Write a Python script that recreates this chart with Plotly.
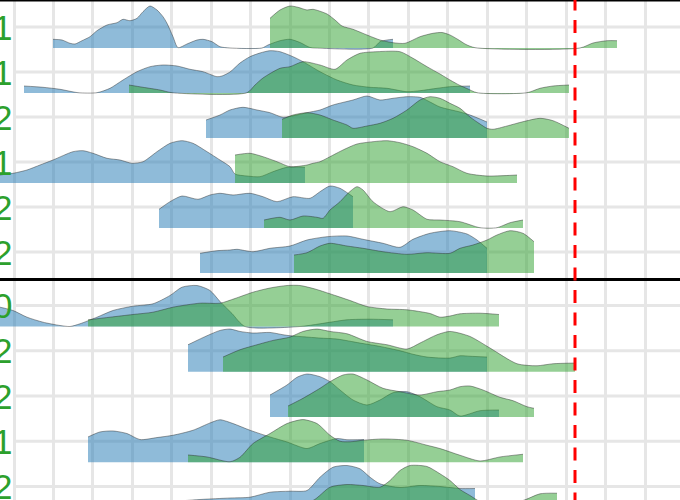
import plotly.graph_objects as go

# ---------------- data ----------------
top_labels = ["1", "1", "2", "1", "2", "2"]
bottom_labels = ["0", "2", "2", "1", "2"]
threshold = 575

# top panel rows (densities, arbitrary units)
r1_blue_x = [53, 62, 70, 75, 82, 90, 97, 107, 117, 123, 130, 137, 143, 150, 157, 163, 167, 173, 178, 187, 197, 203, 212, 220, 230, 262, 268, 280, 290, 300, 310, 316, 373, 380, 387, 393]
r1_blue_d = [8.7, 8, 4.7, 4, 7.3, 11.3, 17.3, 23, 25.3, 28.7, 27.3, 29.7, 36.3, 42, 38, 31.3, 24.7, 11.3, 0.3, 4, 8, 8.7, 6.3, 1.3, 0, 0, 3, 7.3, 8.7, 5.5, 0.5, 0, 0, 6.3, 8, 8.7]
r1_green_x = [270, 280, 290, 298, 307, 313, 327, 335, 342, 353, 367, 380, 393, 405, 420, 433, 442, 450, 458, 466, 475, 580, 593, 607, 617]
r1_green_d = [29.7, 38, 42, 40.7, 38, 38.7, 34, 28, 22, 18.7, 13, 8, 5.3, 4.7, 11.3, 14.7, 15.5, 13, 8.5, 3.5, 0.3, 0, 5, 7.3, 7.3]

r2_blue_x = [24, 43, 60, 78, 97, 110, 123, 137, 150, 163, 177, 190, 203, 217, 222, 230, 240, 250, 260, 270, 280, 293, 303, 320, 337, 353, 370, 387, 407, 420, 437, 450, 470]
r2_blue_d = [7, 5.7, 3.7, 0.3, 0.3, 4.7, 13, 21.3, 26.3, 28, 27, 23.7, 21.3, 16.3, 17, 21, 30, 36.3, 40, 42.3, 41.3, 36.3, 31.3, 21.3, 13, 8, 5.7, 4.7, 1.3, 2.3, 4.7, 6.3, 7]
r2_green_x = [129, 143, 160, 172, 247, 255, 263, 280, 290, 303, 320, 335, 347, 360, 377, 400, 413, 427, 440, 450, 460, 467, 477, 527, 540, 553, 569]
r2_green_d = [8, 5.7, 3, 0.3, 0.3, 8, 15, 24.7, 26.3, 31.3, 28, 23.7, 33, 39.7, 41.3, 41.3, 34.7, 26.3, 19, 13, 7.5, 4.5, 0.3, 0.3, 4.7, 7, 8]

r3_blue_x = [206, 220, 230, 243, 257, 270, 283, 297, 307, 320, 333, 353, 367, 380, 393, 407, 420, 430, 440, 460, 470, 480, 487]
r3_blue_d = [18, 23, 28, 30.7, 28, 25.3, 20.7, 23, 25.3, 28, 33, 38, 42, 38, 39.7, 41.3, 40.7, 36, 31, 26, 23, 19, 16]
r3_green_x = [282, 293, 307, 320, 333, 347, 353, 367, 380, 393, 407, 420, 430, 440, 450, 460, 470, 480, 487, 493, 507, 523, 540, 553, 569]
r3_green_d = [18.7, 23, 25.3, 23, 18, 13, 9.7, 12, 14.7, 19.7, 28, 38, 41.3, 39.7, 34.7, 29.7, 21, 14, 9.7, 8.7, 12, 16.3, 19.7, 17.3, 9.7]

r4_blue_x = [-10, 0, 13, 27, 40, 53, 73, 83, 93, 107, 120, 132, 143, 157, 170, 182, 193, 207, 220, 230, 235, 247, 260, 273, 287, 305]
r4_blue_d = [6, 8, 9.7, 13, 18, 23, 31.3, 32.3, 29.7, 24.7, 23, 19.7, 21.3, 31.3, 39.7, 42.3, 39.7, 31.3, 23, 16.3, 9, 7, 6.3, 11.3, 15.7, 15.7]
r4_green_x = [235, 250, 263, 277, 290, 307, 313, 320, 330, 343, 357, 373, 387, 400, 413, 427, 440, 453, 467, 487, 517]
r4_green_d = [28, 29.7, 26.3, 21.3, 16.3, 18, 19.7, 21.3, 26.3, 33, 39, 41.3, 42.3, 40.3, 36.3, 29.7, 21.3, 16.3, 9.7, 7, 8]

r5_blue_x = [159, 170, 182, 198, 210, 220, 233, 250, 263, 277, 293, 310, 320, 330, 340, 348, 353]
r5_blue_d = [18.7, 26.3, 32, 28.7, 33, 34.7, 33, 34.7, 31.3, 26.3, 31.3, 29.7, 36.3, 42, 39.7, 34.7, 31.3]
r5_green_x = [264, 280, 290, 303, 317, 323, 330, 340, 348, 357, 363, 373, 390, 403, 413, 427, 440, 460, 480, 497, 510, 523]
r5_green_d = [8, 10.7, 8, 12, 10.7, 9.7, 18, 26.3, 34.7, 41.3, 38, 26.3, 16.3, 21.3, 18, 8.7, 8, 6.3, 0.3, 0.3, 5.3, 8]

r6_blue_x = [200, 217, 230, 237, 253, 270, 290, 307, 327, 347, 363, 383, 400, 413, 430, 450, 467, 477, 487]
r6_blue_d = [19.7, 22.3, 23, 23.7, 21.3, 24.7, 27, 33, 36.3, 37, 33.7, 29.7, 25.7, 33.7, 39.7, 42.3, 39, 33, 24.7]
r6_green_x = [294, 307, 320, 330, 347, 363, 383, 407, 427, 450, 460, 473, 487, 497, 510, 523, 534]
r6_green_d = [18, 20.3, 27, 29.7, 27, 24.7, 21.3, 18.7, 20.3, 19.7, 24.7, 28, 33, 38, 42.3, 39.7, 31.3]

# bottom panel rows
r7_blue_x = [-10, 0, 13, 27, 43, 60, 70, 80, 97, 113, 133, 153, 170, 182, 197, 210, 220, 232, 245, 300, 320, 347, 370, 393]
r7_blue_d = [21, 19.3, 16, 9.3, 4.3, 1, 0, 2.7, 9.3, 16, 20.3, 22.7, 31, 39.3, 41, 36, 25, 13, 0, 0, 2.7, 6.7, 7.3, 6.7]
r7_green_x = [88, 110, 133, 153, 173, 200, 220, 235, 253, 270, 287, 300, 315, 330, 350, 367, 387, 407, 430, 440, 450, 460, 480, 499]
r7_green_d = [6.7, 9.3, 12, 14.3, 19.3, 23.3, 23.3, 28, 34.3, 38.5, 41, 41, 37.5, 32.7, 26, 20, 17.5, 16.7, 13, 9.3, 10.5, 12.7, 13.3, 12]

r8_blue_x = [188, 207, 220, 230, 240, 253, 270, 283, 290, 303, 320, 337, 360, 380, 400, 413, 427, 450, 460, 470, 487]
r8_blue_d = [27, 36, 41.3, 42.7, 40.3, 38.7, 39.3, 37, 36, 35, 33.7, 32.7, 28.7, 25.3, 21, 17.5, 14.7, 13.7, 16, 15.5, 14.7]
r8_green_x = [223, 240, 257, 273, 290, 303, 317, 330, 347, 367, 387, 407, 420, 437, 450, 470, 490, 517, 537, 553, 575]
r8_green_d = [14.7, 22, 27, 31.3, 34.7, 40.3, 42.7, 40.3, 38, 30.3, 27, 22.7, 28.7, 37, 40.3, 35.3, 23.7, 8, 6, 8, 8.7]

r9_blue_x = [270, 287, 297, 307, 320, 330, 340, 353, 367, 380, 393, 407, 420, 437, 450, 460, 480, 499]
r9_blue_d = [22, 32, 39.7, 43, 40.3, 35.3, 27, 17, 12, 17, 24.3, 25.3, 20.3, 10.3, 7, 1, 6.3, 7]
r9_green_x = [288, 303, 320, 330, 343, 353, 367, 383, 400, 420, 437, 450, 460, 470, 483, 500, 513, 527, 534]
r9_green_d = [11, 18.7, 28.7, 35.3, 42, 43, 37, 28.7, 25.3, 22, 25.3, 27, 30.3, 31, 27, 19.7, 16.3, 10.3, 8.7]

r10_blue_x = [88, 100, 113, 127, 140, 157, 173, 193, 210, 220, 233, 250, 270, 287, 307, 320, 337, 347, 364]
r10_blue_d = [25.3, 30.3, 31.3, 28.7, 22.7, 24.7, 27, 32, 39.3, 42.5, 38.7, 32, 25.3, 20.3, 13.7, 18.7, 23.7, 22.5, 22.7]
r10_green_x = [188, 207, 230, 240, 253, 270, 287, 303, 317, 330, 340, 350, 363, 383, 407, 427, 440, 460, 480, 500, 523]
r10_green_d = [7.3, 5.3, 0.5, 5, 18.7, 28.7, 38.7, 42.7, 38.7, 27, 21, 20.5, 22, 23.3, 22, 17, 13.7, 7, 1.3, 5.3, 8]

r11_blue_x = [140, 160, 200, 230, 250, 270, 290, 307, 320, 333, 347, 360, 370, 380, 400, 420, 440, 460, 475]
r11_blue_d = [3, 5, 8, 9.5, 10.3, 15.3, 16.3, 17, 30.3, 40.3, 42, 38.7, 30.3, 23.7, 20, 22, 21, 19, 19]
r11_green_x = [285, 313, 330, 347, 363, 380, 390, 400, 410, 427, 440, 450, 460, 470, 480, 500, 523, 540, 557]
r11_green_d = [2, 7, 20.3, 23, 22, 20.3, 27, 37, 42, 41, 33.7, 27, 18, 12, 6, 3, 7, 13.7, 14.3]

top_rows = [
    (r1_blue_x, r1_blue_d, r1_green_x, r1_green_d),
    (r2_blue_x, r2_blue_d, r2_green_x, r2_green_d),
    (r3_blue_x, r3_blue_d, r3_green_x, r3_green_d),
    (r4_blue_x, r4_blue_d, r4_green_x, r4_green_d),
    (r5_blue_x, r5_blue_d, r5_green_x, r5_green_d),
    (r6_blue_x, r6_blue_d, r6_green_x, r6_green_d),
]
bottom_rows = [
    (r7_blue_x, r7_blue_d, r7_green_x, r7_green_d),
    (r8_blue_x, r8_blue_d, r8_green_x, r8_green_d),
    (r9_blue_x, r9_blue_d, r9_green_x, r9_green_d),
    (r10_blue_x, r10_blue_d, r10_green_x, r10_green_d),
    (r11_blue_x, r11_blue_d, r11_green_x, r11_green_d),
]

# ---------------- style ----------------
W, H = 680, 500
SPLIT = 0.441                 # paper y of the panel divider
BLUE_FILL = "rgba(31,119,180,0.5)"
GREEN_FILL = "rgba(44,160,44,0.5)"
OUTLINE = dict(color="rgba(40,40,40,0.55)", width=0.8, shape="spline", smoothing=0.7)
GRID = "#e6e6e6"
LABEL_COLOR = "#2ca02c"

fig = go.Figure()


def add_ridge(xs, ds, base, scale, fill, yref):
    xa = "x" if yref == "y" else "x2"
    fig.add_trace(go.Scatter(x=[xs[0], xs[-1]], y=[base, base], mode="lines",
                             line=dict(width=0), hoverinfo="skip", showlegend=False,
                             xaxis=xa, yaxis=yref))
    fig.add_trace(go.Scatter(x=xs, y=[base + d * scale for d in ds], mode="lines",
                             fill="tonexty", fillcolor=fill, line=OUTLINE,
                             hoverinfo="skip", showlegend=False,
                             xaxis=xa, yaxis=yref))


panels = [
    (top_rows, top_labels, "y", 0.4667, 1 / 45.0),
    (bottom_rows, bottom_labels, "y2", 0.464, 1 / 45.25),
]

shapes = []
annotations = []
for rows, labels, yref, offset, scale in panels:
    for r, (bx, bd, gx, gd) in enumerate(rows):
        base = -r - offset
        add_ridge(bx, bd, base, scale, BLUE_FILL, yref)
        add_ridge(gx, gd, base, scale, GREEN_FILL, yref)
    for r, lab in enumerate(labels):
        shapes.append(dict(type="line", xref="paper", yref=yref, x0=13 / W, x1=1,
                           y0=-r, y1=-r, line=dict(color=GRID, width=3), layer="below"))
        annotations.append(dict(text=lab, xref="paper", yref=yref, x=13.5 / W, y=-r,
                                xanchor="right", yanchor="middle", showarrow=False,
                                font=dict(size=35, color=LABEL_COLOR, family="Arial")))

# panel divider lines and threshold
shapes.append(dict(type="line", xref="paper", yref="paper", x0=0, x1=1, y0=1, y1=1,
                   line=dict(color="black", width=3)))
shapes.append(dict(type="line", xref="paper", yref="paper", x0=0, x1=1, y0=SPLIT, y1=SPLIT,
                   line=dict(color="black", width=3)))
shapes.append(dict(type="line", xref="x", yref="paper", x0=threshold, x1=threshold,
                   y0=1.0052, y1=0, line=dict(color="red", width=3, dash="13px,9.5px")))

xax = dict(range=[0, W], showgrid=True, gridcolor=GRID, gridwidth=3, tick0=14, dtick=39.44,
           showticklabels=False, zeroline=False, showline=False, ticks="")
fig.update_layout(
    width=W, height=H,
    margin=dict(l=0, r=0, t=0, b=0),
    paper_bgcolor="white", plot_bgcolor="white",
    showlegend=False,
    xaxis=dict(xax, anchor="y", domain=[0, 1]),
    xaxis2=dict(xax, anchor="y2", domain=[0, 1]),
    yaxis=dict(domain=[SPLIT, 1], range=[-5.611, 0.6], showgrid=False, zeroline=False,
               showticklabels=False, ticks=""),
    yaxis2=dict(domain=[0, SPLIT], range=[-4.298, 0.5746], showgrid=False, zeroline=False,
                showticklabels=False, ticks=""),
    shapes=shapes,
    annotations=annotations,
)

fig.write_html("out.html", config={"displayModeBar": False},
               post_script="document.body.style.margin='0';document.body.style.overflow='hidden';")
